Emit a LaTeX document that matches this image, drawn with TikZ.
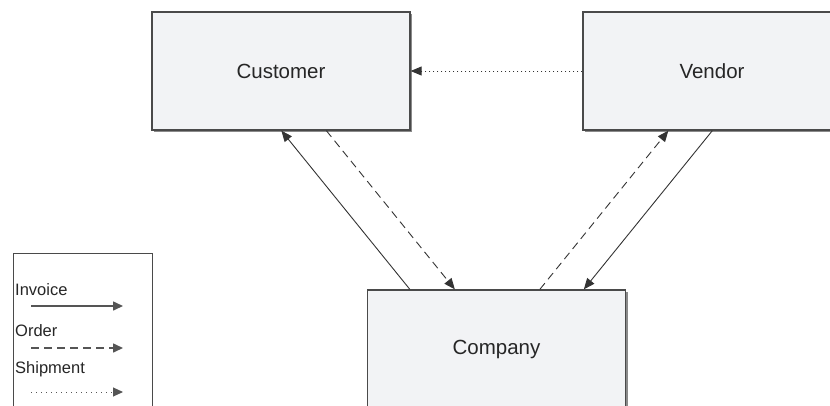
\documentclass[tikz,border=0pt]{standalone}
\usepackage{fontspec}
\setmainfont{Liberation Sans}
\usetikzlibrary{arrows.meta,calc}
\definecolor{boxfill}{HTML}{F2F3F5}
\definecolor{boxline}{HTML}{4A4A4A}
\definecolor{boxshade}{HTML}{8A8A8A}
\definecolor{linkline}{HTML}{333333}
\definecolor{keyline}{HTML}{555555}
\definecolor{txt}{HTML}{262626}
\tikzset{
  party/.style={draw=boxline, line width=1.3pt, fill=boxfill, minimum width=258pt,
    minimum height=118pt, inner sep=0pt, font=\fontsize{20.5}{24}\selectfont, text=txt},
  shade/.style={fill=boxshade, draw=none},
  legendbox/.style={draw=boxline, line width=1.2pt, fill=white, anchor=north west,
    minimum width=139pt, minimum height=170pt, inner sep=0pt},
  legendtext/.style={anchor=west, inner sep=0pt, font=\fontsize{16.5}{20}\selectfont, text=txt},
  link/.style={draw=linkline, line width=0.9pt, -{Triangle[length=11pt,width=9pt]}},
  invoice/.style={link},
  order/.style={link, dash pattern=on 8pt off 5pt},
  shipment/.style={link, dash pattern=on 1pt off 3pt},
  keylink/.style={draw=keyline, line width=1.6pt, -{Triangle[length=10pt,width=9pt]}}
}
\begin{document}
\begin{tikzpicture}[x=1pt,y=-1pt]
\useasboundingbox (0,0) rectangle (830,405);
\clip (0,0) rectangle (830,405);

% soft drop shadows behind the parties
\fill[shade] (154,14) rectangle (412,132);
\fill[shade] (585,14) rectangle (843,132);
\fill[shade] (369,292) rectangle (628,410);

% the three parties
\node[party] (cust) at (281,71) {Customer};
\node[party] (vend) at (712,71) {Vendor};
\node[party] (comp) at (496.5,349) {Company};

% flows between the parties
\draw[shipment] (vend.west) -- (cust.east);
\draw[invoice] ([xshift=43pt]comp.north west) -- ([xshift=130pt]cust.south west);
\draw[order] ([xshift=175pt]cust.south west) -- ([xshift=88pt]comp.north west);
\draw[order] ([xshift=173pt]comp.north west) -- ([xshift=86pt]vend.south west);
\draw[invoice] ([xshift=130pt]vend.south west) -- ([xshift=217pt]comp.north west);

% legend
\node[legendbox] (leg) at (13,253) {};
\node[legendtext] (linv) at (15,290) {Invoice};
\node[legendtext] (lord) at (15,331) {Order};
\node[legendtext] (lshp) at (15,369) {Shipment};
\coordinate (inva) at (31,306);  \coordinate (invb) at (123,306);
\coordinate (orda) at (31,348);  \coordinate (ordb) at (123,348);
\coordinate (shpa) at (31,392);  \coordinate (shpb) at (123,392);
\draw[keylink] (inva) -- (invb);
\draw[keylink, dash pattern=on 8pt off 5pt] (orda) -- (ordb);
\draw[keylink, line width=1pt, dash pattern=on 1pt off 4pt] (shpa) -- (shpb);
\end{tikzpicture}
\end{document}
